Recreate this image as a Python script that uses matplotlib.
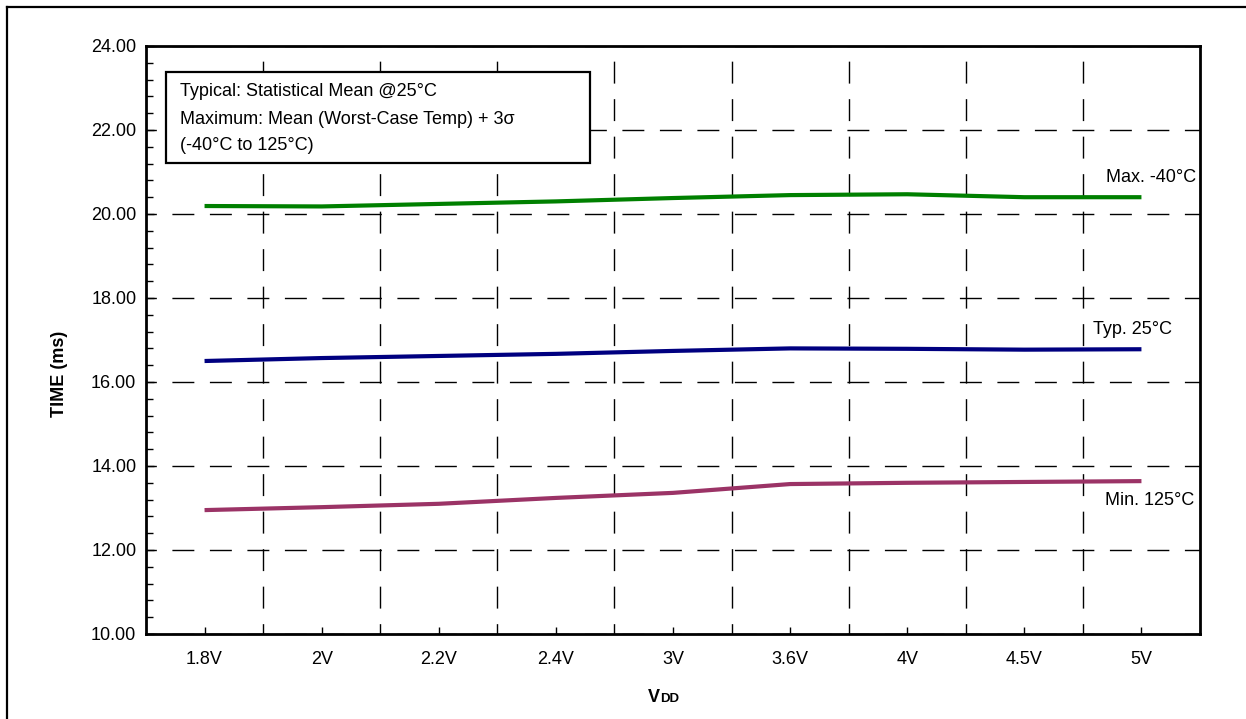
import numpy as np
import matplotlib
matplotlib.use("Agg")
import matplotlib.pyplot as plt
from matplotlib.lines import Line2D
from matplotlib.patches import Rectangle
from matplotlib.ticker import MultipleLocator, FixedLocator

plt.rcParams['font.family'] = ['Liberation Sans', 'DejaVu Sans']

categories = ['1.8V', '2V', '2.2V', '2.4V', '3V', '3.6V', '4V', '4.5V', '5V']
max_m40 = [20.19, 20.18, 20.24, 20.30, 20.38, 20.45, 20.47, 20.40, 20.40]
typ_25 = [16.50, 16.57, 16.62, 16.67, 16.74, 16.80, 16.79, 16.77, 16.78]
min_125 = [12.95, 13.02, 13.10, 13.24, 13.36, 13.57, 13.60, 13.62, 13.64]
ytick_labels = ['10.00', '12.00', '14.00', '16.00', '18.00', '20.00', '22.00', '24.00']

W, H = 1246, 719
fig = plt.figure(figsize=(W / 100, H / 100), dpi=100)
ax = fig.add_axes([146 / W, 1 - 634 / H, (1200 - 146) / W, (634 - 46) / H])

x = np.arange(len(categories))
ax.plot(x, max_m40, color='#008000', lw=3.0, solid_capstyle='butt', zorder=3)
ax.plot(x, typ_25, color='#000080', lw=3.0, solid_capstyle='butt', zorder=3)
ax.plot(x, min_125, color='#9B3366', lw=3.0, solid_capstyle='butt', zorder=3)

ax.set_xlim(-0.5, len(categories) - 0.5)
ax.set_ylim(10, 24)

ax.set_xticks(x)
ax.set_xticklabels(categories, fontsize=13)
ax.xaxis.set_minor_locator(FixedLocator(x[:-1] + 0.5))
ax.set_yticks(np.arange(10, 24.01, 2))
ax.set_yticklabels(ytick_labels, fontsize=13)
ax.yaxis.set_minor_locator(MultipleLocator(0.4))

ax.tick_params(axis='x', which='major', direction='in', length=5, width=1, pad=12)
ax.tick_params(axis='x', which='minor', length=0)
ax.tick_params(axis='y', which='major', direction='in', length=6, width=1, pad=7)
ax.tick_params(axis='y', which='minor', direction='in', length=5, width=1)

dash = (8.35, (15.8, 11.2))
ax.grid(True, axis='y', which='major', color='black', lw=1.0, linestyle=dash)
ax.grid(True, axis='x', which='minor', color='black', lw=1.0, linestyle=dash)
ax.grid(False, axis='x', which='major')

for s in ax.spines.values():
    s.set_linewidth(2.0)

# annotations for series
ax.text(8.47, 20.86, 'Max. -40°C', ha='right', va='center', fontsize=13)
ax.text(7.92, 17.26, 'Typ. 25°C', ha='center', va='center', fontsize=13)
ax.text(8.45, 13.19, 'Min. 125°C', ha='right', va='center', fontsize=13)

# note box
ax.add_patch(Rectangle((0.019, 0.801), 0.4027, 0.154, transform=ax.transAxes,
                       fill=True, facecolor='white', edgecolor='black', lw=1.6, zorder=4))
note_lines = ['Typical: Statistical Mean @25°C',
              'Maximum: Mean (Worst-Case Temp) + 3σ',
              '(-40°C to 125°C)']
for i, t in enumerate(note_lines):
    ax.text(0.032, 1 - (92 + 27 * i - 46) / 588, t, transform=ax.transAxes,
            ha='left', va='center', fontsize=13, zorder=5)

# axis labels
fig.text(60 / W, 1 - 374 / H, 'TIME (ms)', rotation=90, ha='center', va='center',
         fontsize=13, fontweight='bold')
vt = fig.text(648 / W, 1 - 702 / H, 'V', ha='left', va='baseline',
              fontsize=13, fontweight='bold')
fig.canvas.draw()
bb = vt.get_window_extent()
fig.text(bb.x1 / (W) + 0.0005, 1 - 702 / H, 'DD', ha='left', va='baseline',
         fontsize=9.5, fontweight='bold')

# outer frame (cut at right/bottom)
fig.add_artist(Line2D([6.5 / W, 1.0], [1 - 6.5 / H, 1 - 6.5 / H], color='black', lw=1.6))
fig.add_artist(Line2D([6.5 / W, 6.5 / W], [0.0, 1 - 6.5 / H], color='black', lw=1.6))

fig.savefig('out.png', dpi=100)
